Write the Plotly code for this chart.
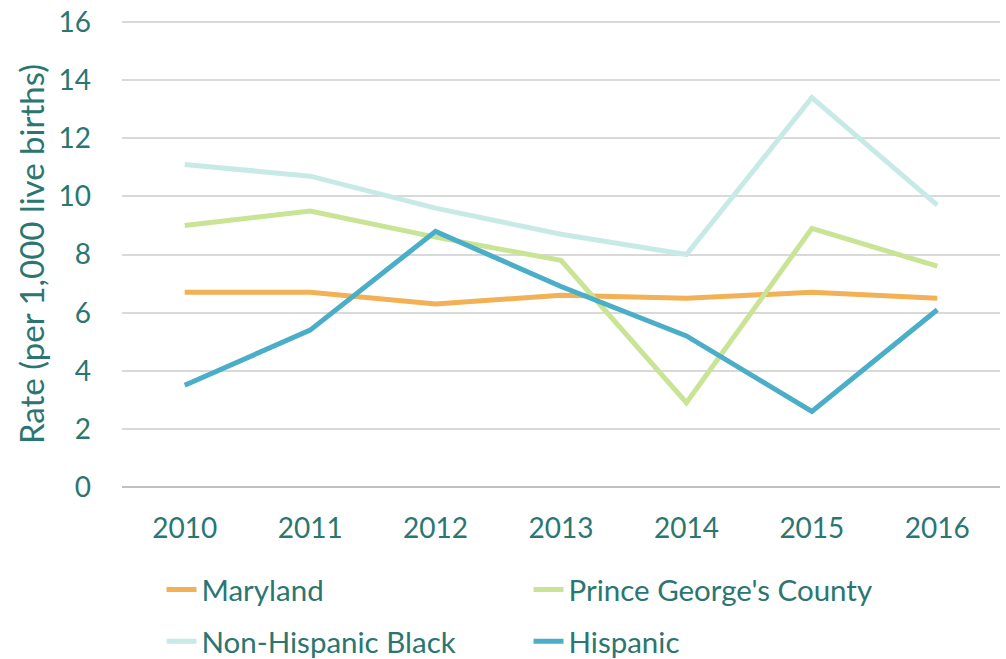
import plotly.graph_objects as go

years = ["2010", "2011", "2012", "2013", "2014", "2015", "2016"]
maryland = [6.7, 6.7, 6.3, 6.6, 6.5, 6.7, 6.5]
pg_county = [9.0, 9.5, 8.6, 7.8, 2.9, 8.9, 7.6]
nh_black = [11.1, 10.7, 9.6, 8.7, 8.0, 13.4, 9.7]
hispanic = [3.5, 5.4, 8.8, 6.9, 5.2, 2.6, 6.1]
y_ticks = [0, 2, 4, 6, 8, 10, 12, 14, 16]

TEXT = "#2B7671"
FONT = "Lato, 'Open Sans', sans-serif"

series = [
    ("Maryland", maryland, "#F2B155", "legend"),
    ("Prince George's County", pg_county, "#C8E494", "legend"),
    ("Non-Hispanic Black", nh_black, "#C8EAE7", "legend2"),
    ("Hispanic", hispanic, "#4BAEC8", "legend2"),
]

fig = go.Figure()
for name, vals, color, leg in series:
    fig.add_trace(go.Scatter(
        x=years, y=vals, name=name, mode="lines",
        line=dict(color=color, width=5),
        legend=leg,
    ))

leg_common = dict(orientation="h", xanchor="left", yanchor="top",
                  entrywidth=322, entrywidthmode="pixels",
                  font=dict(size=29.5, color=TEXT, family=FONT),
                  bgcolor="rgba(0,0,0,0)")

fig.update_layout(
    width=1006, height=659,
    margin=dict(l=122, r=6, t=21, b=172, autoexpand=False),
    paper_bgcolor="white", plot_bgcolor="white",
    font=dict(family=FONT, color=TEXT, size=28),
    showlegend=True,
    legend=dict(x=0.045, y=-0.165, **leg_common),
    legend2=dict(x=0.045, y=-0.276, **leg_common),
)

fig.update_xaxes(
    type="category", range=[-0.5, 6.5],
    showgrid=False, showline=False, zeroline=False,
    ticks="", tickfont=dict(size=28, color=TEXT, family=FONT),
    ticklabelstandoff=22,
)
fig.update_yaxes(
    range=[0, 16.04], tickvals=y_ticks,
    showgrid=True, gridcolor="#D9D9D9", gridwidth=1.5,
    zeroline=True, zerolinecolor="#BFBFBF", zerolinewidth=1.5,
    showline=False, ticks="", ticklabeloverflow="allow",
    tickfont=dict(size=28, color=TEXT, family=FONT),
    ticklabelstandoff=30,
    title=dict(text="Rate (per 1,000 live births)", font=dict(size=33, color=TEXT, family=FONT), standoff=3),
)

fig.write_html(
    "out.html",
    config={"displayModeBar": False},
    post_script="document.body.style.margin='0';document.body.style.overflow='hidden';",
)
